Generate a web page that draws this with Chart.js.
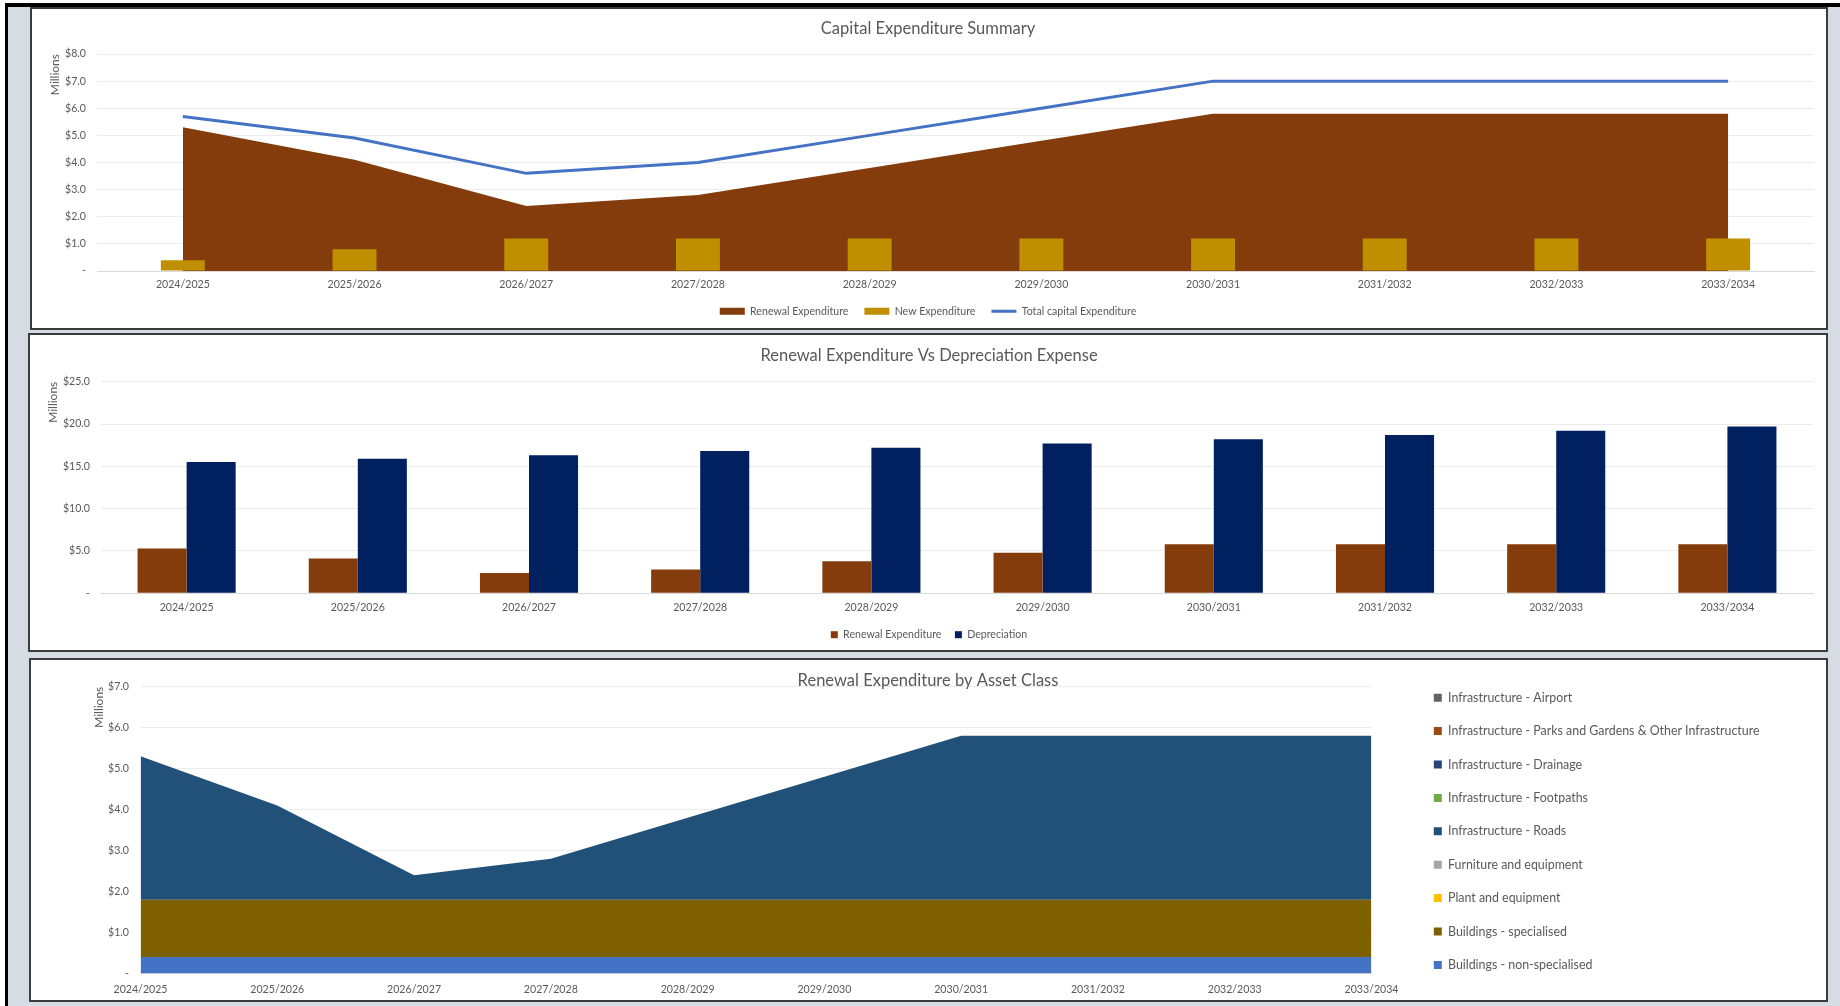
<!DOCTYPE html>
<html><head><meta charset="utf-8">
<script src="https://cdn.jsdelivr.net/npm/chart.js@4.4.1/dist/chart.umd.min.js"></script>
<style>
html,body{margin:0;padding:0;background:#fff;width:1840px;height:1006px;overflow:hidden;}
#frameL{position:absolute;left:5px;top:3px;width:3px;height:1003px;background:#000;}
#frameT{position:absolute;left:5px;top:3px;width:1835px;height:4px;background:#000;}
#bg{position:absolute;left:8px;top:7px;width:1832px;height:999px;background:#d6dce4;}
.panel{position:absolute;box-sizing:border-box;border:2px solid #3c3c3c;background:#fff;}
.panel canvas{display:block;}
</style></head><body>
<div id="frameL"></div><div id="frameT"></div><div id="bg"></div>
<div class="panel" style="left:30px;top:7px;width:1798px;height:323px;"><canvas id="c1" width="1794" height="319" style="width:1794px;height:319px"></canvas></div>
<div class="panel" style="left:28px;top:333px;width:1800px;height:319px;"><canvas id="c2" width="1796" height="315" style="width:1796px;height:315px"></canvas></div>
<div class="panel" style="left:29px;top:658px;width:1799px;height:344px;"><canvas id="c3" width="1795" height="340" style="width:1795px;height:340px"></canvas></div>
<script>
// ---------- DATA ----------
const years = ['2024/2025','2025/2026','2026/2027','2027/2028','2028/2029','2029/2030','2030/2031','2031/2032','2032/2033','2033/2034'];
const renewalExpenditure = [5.3, 4.1, 2.4, 2.8, 3.8, 4.8, 5.8, 5.8, 5.8, 5.8];
const newExpenditure = [0.4, 0.8, 1.2, 1.2, 1.2, 1.2, 1.2, 1.2, 1.2, 1.2];
const totalCapitalExpenditure = [5.7, 4.9, 3.6, 4.0, 5.0, 6.0, 7.0, 7.0, 7.0, 7.0];
const depreciation = [15.5, 15.9, 16.3, 16.8, 17.2, 17.7, 18.2, 18.7, 19.2, 19.7];
const infraAirport = [0, 0, 0, 0, 0, 0, 0, 0, 0, 0];
const infraParks = [0, 0, 0, 0, 0, 0, 0, 0, 0, 0];
const infraDrainage = [0, 0, 0, 0, 0, 0, 0, 0, 0, 0];
const infraFootpaths = [0, 0, 0, 0, 0, 0, 0, 0, 0, 0];
const infraRoads = [3.5, 2.3, 0.6, 1.0, 2.0, 3.0, 4.0, 4.0, 4.0, 4.0];
const furnitureEquipment = [0, 0, 0, 0, 0, 0, 0, 0, 0, 0];
const plantEquipment = [0, 0, 0, 0, 0, 0, 0, 0, 0, 0];
const buildingsSpecialised = [1.4, 1.4, 1.4, 1.4, 1.4, 1.4, 1.4, 1.4, 1.4, 1.4];
const buildingsNonSpecialised = [0.4, 0.4, 0.4, 0.4, 0.4, 0.4, 0.4, 0.4, 0.4, 0.4];
const capexTicks = ['-', '$1.0', '$2.0', '$3.0', '$4.0', '$5.0', '$6.0', '$7.0', '$8.0'];
const renewalDepTicks = ['-', '$5.0', '$10.0', '$15.0', '$20.0', '$25.0'];
const assetClassTicks = ['-', '$1.0', '$2.0', '$3.0', '$4.0', '$5.0', '$6.0', '$7.0'];

// ---------- STYLE ----------
const FONT = "Lato, 'Open Sans', sans-serif";
const TXT = '#595959';
const GRID = '#ececec';
const AXIS = '#d9d9d9';
const SMALL = 10.6;
const UNIT = 12;
const TITLE = 16.5;
const LEG3 = 12.4;
Chart.defaults.font.family = FONT;
Chart.defaults.color = TXT;

function yScale(max, step, labels, width, tickPad, titlePad) {
  return {
    min: 0, max: max,
    ticks: {stepSize: step, color: TXT, font: {family: FONT, size: SMALL}, padding: tickPad,
            callback: (v, i) => labels[i]},
    grid: {color: GRID, drawTicks: false, lineWidth: 1},
    border: {display: false},
    title: {display: true, text: 'Millions', align: 'end', color: TXT,
            font: {family: FONT, size: UNIT}, padding: {top: titlePad, bottom: 0}},
    afterFit: s => { s.width = width; }
  };
}
function xScale(offset, height, pad) {
  return {
    offset: offset,
    ticks: {color: TXT, font: {family: FONT, size: SMALL}, padding: pad, autoSkip: false, maxRotation: 0, minRotation: 0},
    grid: {display: false, drawTicks: false},
    border: {display: true, color: AXIS, width: 1},
    afterFit: s => { s.height = height; }
  };
}
function titleOpt(text, pt, pb, lh) {
  return {display: true, text: text, color: TXT,
          font: {family: FONT, size: TITLE, weight: 'normal', lineHeight: lh || 1.2},
          padding: {top: pt, bottom: pb}};
}

// ---------- CHART 1 ----------
new Chart(document.getElementById('c1'), {
  type: 'bar',
  data: {
    labels: years,
    datasets: [
      {type: 'line', label: 'Renewal Expenditure', data: renewalExpenditure, fill: 'origin',
       backgroundColor: '#843C0C', borderColor: '#843C0C', borderWidth: 0, pointRadius: 0, tension: 0, order: 2, legendMarker: 'rect'},
      {type: 'bar', label: 'New Expenditure', data: newExpenditure, backgroundColor: '#BF8F00',
       borderWidth: 0, categoryPercentage: 0.8, barPercentage: 0.32, order: 1, legendMarker: 'rect'},
      {type: 'line', label: 'Total capital Expenditure', data: totalCapitalExpenditure, fill: false,
       borderColor: '#4472C4', backgroundColor: '#4472C4', borderWidth: 3, pointRadius: 0, tension: 0, order: 0, legendMarker: 'line'}
    ]
  },
  options: {
    responsive: false, animation: false,
    layout: {padding: {left: 10, right: 12, top: 0, bottom: 1.4}},
    scales: {
      x: xScale(true, 19, 7.6),
      y: yScale(8, 1, capexTicks, 55, 11, 5.8)
    },
    plugins: {
      tooltip: {enabled: false},
      title: titleOpt('Capital Expenditure Summary', 9.4, 15.8),
      legend: {
        position: 'bottom',
        labels: {
          usePointStyle: true, pointStyleWidth: 25, boxHeight: 7, padding: 16, color: TXT,
          font: {family: FONT, size: SMALL},
          sort: (a, b) => a.datasetIndex - b.datasetIndex,
          generateLabels: chart => Chart.defaults.plugins.legend.labels.generateLabels(chart).map(it => {
            const ds = chart.data.datasets[it.datasetIndex];
            it.pointStyle = ds.legendMarker;
            if (ds.legendMarker === 'line') { it.lineWidth = 3; it.strokeStyle = ds.borderColor; }
            else { it.lineWidth = 0; it.fillStyle = ds.backgroundColor; }
            return it;
          })
        }
      }
    }
  }
});

// ---------- CHART 2 ----------
new Chart(document.getElementById('c2'), {
  type: 'bar',
  data: {
    labels: years,
    datasets: [
      {label: 'Renewal Expenditure', data: renewalExpenditure, backgroundColor: '#843C0C', borderWidth: 0,
       categoryPercentage: 0.573, barPercentage: 1},
      {label: 'Depreciation', data: depreciation, backgroundColor: '#002060', borderWidth: 0,
       categoryPercentage: 0.573, barPercentage: 1}
    ]
  },
  options: {
    responsive: false, animation: false,
    layout: {padding: {left: 15, right: 13, top: 0, bottom: 0}},
    scales: {
      x: xScale(true, 22.6, 8.3),
      y: yScale(25, 5, renewalDepTicks, 56, 11, 0.8)
    },
    plugins: {
      tooltip: {enabled: false},
      title: titleOpt('Renewal Expenditure Vs Depreciation Expense', 10.8, 16.1),
      legend: {
        position: 'bottom',
        labels: {boxWidth: 7, boxHeight: 7, padding: 13.5, color: TXT, font: {family: FONT, size: SMALL}}
      }
    }
  }
});

// ---------- CHART 3 ----------
const assetSeries = [
  {label: 'Buildings - non-specialised', data: buildingsNonSpecialised, color: '#4472C4'},
  {label: 'Buildings - specialised', data: buildingsSpecialised, color: '#7F6000'},
  {label: 'Plant and equipment', data: plantEquipment, color: '#FFC000'},
  {label: 'Furniture and equipment', data: furnitureEquipment, color: '#A5A5A5'},
  {label: 'Infrastructure - Roads', data: infraRoads, color: '#215079'},
  {label: 'Infrastructure - Footpaths', data: infraFootpaths, color: '#70AD47'},
  {label: 'Infrastructure - Drainage', data: infraDrainage, color: '#264478'},
  {label: 'Infrastructure - Parks and Gardens & Other Infrastructure', data: infraParks, color: '#9E480E'},
  {label: 'Infrastructure - Airport', data: infraAirport, color: '#636363'}
];
// layout geometry for chart 3 (legend on right, chart area fixed)
const c3W = 1795, leg3Pad = 21, leg3Box = 8, leg3Left = 1381.8, area3Left = 109.5, area3Right = 1340.5;
const mctx = document.createElement('canvas').getContext('2d');
mctx.font = 'normal ' + LEG3 + 'px ' + FONT;
const leg3TextW = Math.max(...assetSeries.map(s => mctx.measureText(s.label).width));
const leg3W = leg3Pad + leg3Box + LEG3 / 2 + leg3TextW + 10;
const pad3Right = Math.max(0, c3W - leg3Left - leg3W);
const pad3Left = Math.max(0, pad3Right - 1);

new Chart(document.getElementById('c3'), {
  type: 'line',
  data: {
    labels: years,
    datasets: assetSeries.map((s, i) => ({
      label: s.label, data: s.data, backgroundColor: s.color, borderColor: s.color,
      borderWidth: 0, pointRadius: 0, tension: 0, fill: i === 0 ? 'origin' : '-1', yAxisID: 'y'
    }))
  },
  options: {
    responsive: false, animation: false,
    layout: {padding: {left: pad3Left, right: pad3Right, top: 10.5, bottom: 0}},
    scales: {
      x: xScale(false, 26.5, 10.1),
      y: Object.assign(yScale(7, 1, assetClassTicks, area3Left - pad3Left, 11.5, 68 - pad3Left - UNIT * 0.6), {stacked: true}),
      yR: {type: 'linear', position: 'right', display: true,
           grid: {display: false, drawTicks: false}, border: {display: false}, ticks: {display: false},
           afterFit: s => { s.width = leg3Left - area3Right; }}
    },
    plugins: {
      tooltip: {enabled: false},
      title: titleOpt('Renewal Expenditure by Asset Class', 6.4, 1.55, 0.5),
      legend: {
        position: 'right', align: 'start', reverse: true, maxWidth: 1000,
        labels: {boxWidth: leg3Box, boxHeight: leg3Box, padding: leg3Pad, color: TXT, font: {family: FONT, size: LEG3}}
      }
    }
  }
});
</script>
</body></html>
